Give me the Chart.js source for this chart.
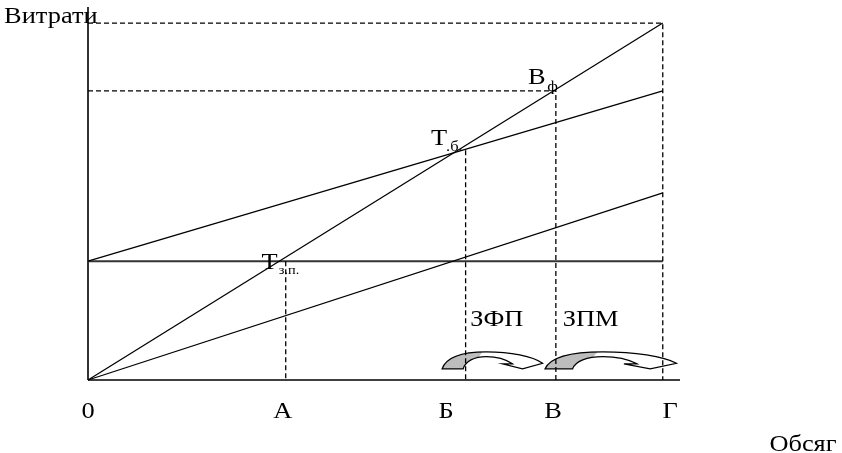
<!DOCTYPE html>
<html>
<head>
<meta charset="utf-8">
<script src="https://cdn.jsdelivr.net/npm/chart.js@4"></script>
<style>html, body { margin: 0; padding: 0; background: #fff; }</style>
</head>
<body>
<canvas id="chart" width="842" height="453"></canvas>
<script>
// обсяг (x) at the start and end of every line
const volume = [0, 100];
const revenue = [0, 100];
const totalCost = [33.3, 81];
const variableCost = [0, 52.4];
const fixedCost = [33.3, 33.3];

// points on the volume axis
const tickLabels = ['0', 'А', 'Б', 'В', 'Г'];
const tickValues = [0, 33.9, 62.3, 80.9, 101.3];

// dashed helper lines: [x, y] pairs
const guideTop = [[0, 100], [100, 100], [100, 0]];
const guideFact = [[0, 81], [81.4, 81], [81.4, 0]];
const guideBreakeven = [[65.7, 64.4], [65.7, 0]];
const guideZp = [[34.4, 33.3], [34.4, 0]];

// zones with curved arrows: start and end volume
const arrowZones = [[61.6, 79.1], [79.5, 102.4]];
const zoneLabels = ['ЗФП', 'ЗПМ'];
const zoneLabelX = [66.5, 82.6];

const xMax = 103, yMax = 104.5;

const pairs = arr => arr.map(p => ({ x: p[0], y: p[1] }));
const pts = (xs, ys) => xs.map((x, i) => ({ x: x, y: ys[i] }));

function line(data, opts) {
  return Object.assign({
    data: data, showLine: true, pointRadius: 0, borderColor: '#000',
    borderWidth: 1.3, clip: false, tension: 0, fill: false
  }, opts || {});
}

const dash = [5, 3];

// the text in the picture is a slightly wide serif
function text(ctx, t, px, py, size, align) {
  ctx.save();
  ctx.font = size + 'px "Liberation Serif"';
  ctx.textAlign = align;
  ctx.textBaseline = 'middle';
  ctx.translate(px, py);
  ctx.scale(1.1, 1);
  ctx.fillText(t, 0, 0);
  ctx.restore();
}

const textPlugin = {
  id: 'texts',
  afterDraw(chart) {
    const ctx = chart.ctx, x = chart.scales.x, y = chart.scales.y;
    const X = v => x.getPixelForValue(v), Y = v => y.getPixelForValue(v);
    ctx.fillStyle = '#000';
    tickLabels.forEach((t, i) => text(ctx, t, X(tickValues[i]), Y(-9), 24, 'center'));
    text(ctx, 'Обсяг', X(124.4), Y(-18.2), 24, 'center');
    text(ctx, 'Витрати', X(-14.6), Y(101.7), 24, 'left');
    text(ctx, 'Т', X(31.6), Y(32.8), 24, 'center');
    text(ctx, 'з.п.', X(33.2), Y(30.6), 13, 'left');
    text(ctx, 'Т', X(61.1), Y(67.6), 24, 'center');
    text(ctx, '.б.', X(62.3), Y(65.3), 15, 'left');
    text(ctx, 'В', X(78.1), Y(84.8), 24, 'center');
    text(ctx, 'ф', X(79.9), Y(82.0), 15, 'left');
    zoneLabels.forEach((t, i) => text(ctx, t, X(zoneLabelX[i]), Y(16.8), 24, 'left'));
  }
};

const arrowPlugin = {
  id: 'arrows',
  beforeDatasetsDraw(chart) {
    const ctx = chart.ctx, x = chart.scales.x, y = chart.scales.y;
    arrowZones.forEach(z => {
      const x0 = x.getPixelForValue(z[0]);
      const w = x.getPixelForValue(z[1]) - x0;
      const base = y.getPixelForValue(3.1);
      const h = base - y.getPixelForValue(7.9);
      const P = (u, v) => [x0 + u * w, base - v * h];
      const shape = () => {
        ctx.beginPath();
        ctx.moveTo(...P(0, 0));
        ctx.bezierCurveTo(...P(0.04, 0.7), ...P(0.2, 1), ...P(0.44, 1));
        ctx.bezierCurveTo(...P(0.68, 1), ...P(0.9, 0.75), ...P(1, 0.33));
        ctx.lineTo(...P(0.8, 0));
        ctx.lineTo(...P(0.6, 0.3));
        ctx.lineTo(...P(0.7, 0.3));
        ctx.bezierCurveTo(...P(0.62, 0.62), ...P(0.52, 0.72), ...P(0.44, 0.72));
        ctx.bezierCurveTo(...P(0.32, 0.72), ...P(0.23, 0.45), ...P(0.21, 0));
        ctx.closePath();
      };
      ctx.save();
      shape();
      ctx.fillStyle = '#fff';
      ctx.fill();
      ctx.save();
      ctx.beginPath();
      ctx.moveTo(...P(-0.1, -0.2));
      ctx.lineTo(...P(0.27, -0.2));
      ctx.lineTo(...P(0.42, 1.2));
      ctx.lineTo(...P(-0.1, 1.2));
      ctx.closePath();
      ctx.clip();
      shape();
      ctx.fillStyle = '#bdbdbd';
      ctx.fill();
      ctx.restore();
      shape();
      ctx.strokeStyle = '#000';
      ctx.lineWidth = 1.2;
      ctx.stroke();
      ctx.restore();
    });
  }
};

new Chart(document.getElementById('chart'), {
  type: 'scatter',
  data: {
    datasets: [
      line(pairs(guideTop), { borderDash: dash }),
      line(pairs(guideFact), { borderDash: dash }),
      line(pairs(guideBreakeven), { borderDash: dash }),
      line(pairs(guideZp), { borderDash: dash }),
      line(pts(volume, revenue)),
      line(pts(volume, totalCost)),
      line(pts(volume, variableCost)),
      line(pts(volume, fixedCost), { borderColor: '#333', borderWidth: 2 }),
      line([{ x: 0, y: 0 }, { x: xMax, y: 0 }], { borderWidth: 1.5 }),
      line([{ x: 0, y: 0 }, { x: 0, y: yMax }], { borderColor: '#333', borderWidth: 2 })
    ]
  },
  options: {
    responsive: false,
    animation: false,
    layout: { padding: { left: 88, right: 162, top: 7, bottom: 73 } },
    scales: {
      x: { type: 'linear', min: 0, max: xMax, display: false },
      y: { type: 'linear', min: 0, max: yMax, display: false }
    },
    plugins: { legend: { display: false }, tooltip: { enabled: false } }
  },
  plugins: [arrowPlugin, textPlugin]
});
</script>
</body>
</html>
